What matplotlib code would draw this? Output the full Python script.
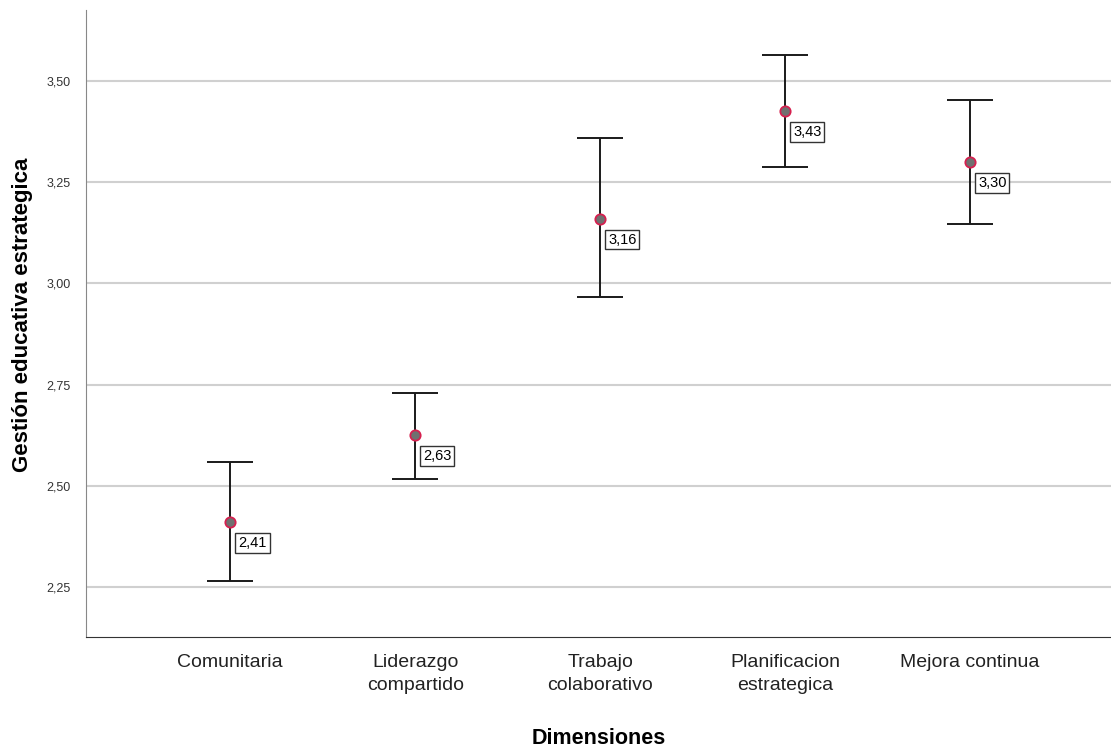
import numpy as np
import matplotlib.pyplot as plt

plt.rcParams['font.family'] = ['Liberation Sans', 'DejaVu Sans']

categories = ['Comunitaria', 'Liderazgo\ncompartido', 'Trabajo\ncolaborativo',
              'Planificacion\nestrategica', 'Mejora continua']
means = [2.41, 2.626, 3.16, 3.426, 3.30]
labels = ['2,41', '2,63', '3,16', '3,43', '3,30']
upper = [2.559, 2.730, 3.359, 3.564, 3.453]
lower = [2.265, 2.517, 2.965, 3.287, 3.146]

x = np.arange(len(categories))
means = np.array(means)
err = np.array([means - np.array(lower), np.array(upper) - means])

fig = plt.figure(figsize=(11.11, 7.51), dpi=100)
ax = fig.add_axes([86/1111, 1 - 637/751, 1 - 86/1111, (637 - 10)/751])

ax.errorbar(x, means, yerr=err, fmt='none', ecolor='#1a1a1a', elinewidth=1.4,
            capsize=16.5, capthick=1.4, zorder=3)
ax.scatter(x, means, s=55, color='#707070', edgecolor='#d6204f', linewidth=1.3, zorder=4)

for xi, m, t in zip(x, means, labels):
    ax.annotate(t, (xi, m), xytext=(8, -21), textcoords='offset pixels',
                ha='left', va='center', fontsize=10.5,
                bbox=dict(boxstyle='square,pad=0.2', fc='white', ec='#333333', lw=1))

ax.set_xlim(-0.78, (1111 - 230) / 185)
ax.set_ylim(2.1265, 3.675)
ax.set_yticks([2.25, 2.50, 2.75, 3.00, 3.25, 3.50])
ax.set_yticklabels(['2,25', '2,50', '2,75', '3,00', '3,25', '3,50'], fontsize=9, color='#333333')
ax.set_xticks(x)
ax.set_xticklabels(categories, fontsize=14, color='#222222', linespacing=1.5)
ax.tick_params(length=0, axis='y', pad=11)
ax.tick_params(length=0, axis='x', pad=12)
ax.grid(axis='y', color='#d0d0d0', lw=1.5, zorder=0)
ax.set_axisbelow(True)
for s in ['top', 'right']:
    ax.spines[s].set_visible(False)
ax.spines['left'].set_color('#888888')
ax.spines['bottom'].set_color('#333333')

ax.set_xlabel('Dimensiones', fontsize=15.5, fontweight='bold', labelpad=24)
ax.set_ylabel('Gestión educativa estrategica', fontsize=16, fontweight='bold')
ax.yaxis.set_label_coords(-0.052, 0.514)

fig.savefig('out.png', dpi=100)
